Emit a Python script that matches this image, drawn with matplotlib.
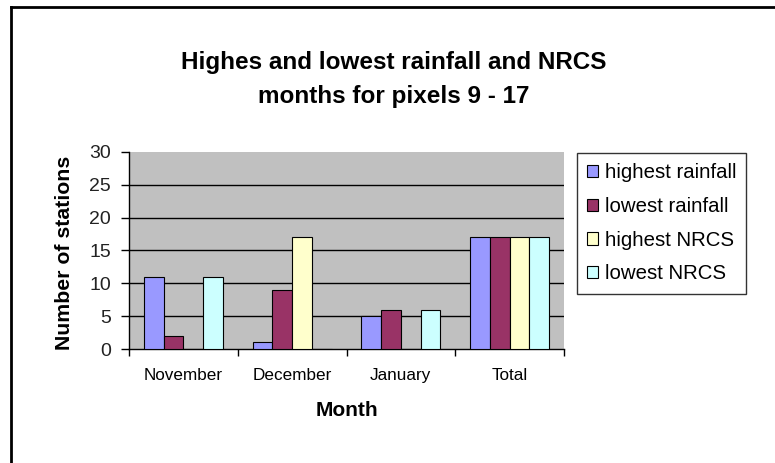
import numpy as np
import matplotlib
matplotlib.use("Agg")
import matplotlib.pyplot as plt
from matplotlib.lines import Line2D

plt.rcParams['font.family'] = ['Liberation Sans', 'DejaVu Sans']

# ---- data ----
months = ["November", "December", "January", "Total"]
series_names = ["highest rainfall", "lowest rainfall", "highest NRCS", "lowest NRCS"]
highest_rainfall = [11, 1, 5, 17]
lowest_rainfall = [2, 9, 6, 17]
highest_nrcs = [0, 17, 0, 17]
lowest_nrcs = [11, 0, 6, 17]
colors = ["#9999FF", "#993366", "#FFFFCC", "#CCFFFF"]

series = [highest_rainfall, lowest_rainfall, highest_nrcs, lowest_nrcs]

fig = plt.figure(figsize=(7.75, 4.63), dpi=100)
ax = fig.add_axes([129 / 775, 1 - 349 / 463, (564 - 129) / 775, (349 - 152) / 463])
ax.set_facecolor("#C0C0C0")

x = np.arange(len(months))
width = 1 / 5.5
for i, (vals, name, col) in enumerate(zip(series, series_names, colors)):
    offs = (i - 1.5) * width
    ax.bar(x + offs, vals, width, color=col, edgecolor="black",
           linewidth=0.8, label=name, zorder=3)

ax.set_xlim(-0.5, 3.5)
ax.set_ylim(0, 30)
ax.set_yticks(range(0, 31, 5))
for yv in range(5, 30, 5):
    ax.axhline(yv, color="black", linewidth=1.0, zorder=1)

# category labels centred, tick marks on the boundaries
ax.set_xticks(x)
ax.set_xticklabels(months, fontsize=12.3)
ax.set_xticks(np.arange(-0.5, 3.6, 1), minor=True)
ax.tick_params(axis="x", which="major", length=0, pad=14)
ax.tick_params(axis="x", which="minor", length=5, width=1, direction="out")
ax.tick_params(axis="y", length=6, width=1, direction="out", labelsize=14, pad=7)
for lab in ax.get_yticklabels():
    lab.set_color("#222222")

for s in ["top", "right"]:
    ax.spines[s].set_visible(False)
ax.spines["left"].set_linewidth(1.0)
ax.spines["bottom"].set_linewidth(1.0)

ax.set_xlabel("Month", fontsize=15, fontweight="bold", labelpad=13)
ax.set_ylabel("Number of stations", fontsize=15.3, fontweight="bold")
ax.yaxis.set_label_coords((65 - 129) / 435, (349 - 253) / 197)
ax.yaxis.label.set_verticalalignment("center")

fig.text(394 / 775, 1 - 62 / 463, "Highes and lowest rainfall and NRCS",
         ha="center", va="center", fontsize=17.5, fontweight="bold")
fig.text(394 / 775, 1 - 96 / 463, "months for pixels 9 - 17",
         ha="center", va="center", fontsize=17.5, fontweight="bold")

leg = fig.legend(loc="upper left", bbox_to_anchor=(577 / 775, 1 - 153 / 463),
                 fontsize=14.7, frameon=True, fancybox=False, edgecolor="black",
                 handlelength=0.55, handleheight=0.55, handletextpad=0.3,
                 labelspacing=0.72, borderpad=0.5, borderaxespad=0)
leg.get_frame().set_linewidth(1.0)

# outer chart border (top and left edges)
fig.add_artist(Line2D([11 / 775, 1], [1 - 7 / 463, 1 - 7 / 463],
                      color="black", linewidth=2, transform=fig.transFigure))
fig.add_artist(Line2D([11 / 775, 11 / 775], [0, 1 - 7 / 463],
                      color="black", linewidth=2, transform=fig.transFigure))

fig.savefig("out.png", dpi=100)
